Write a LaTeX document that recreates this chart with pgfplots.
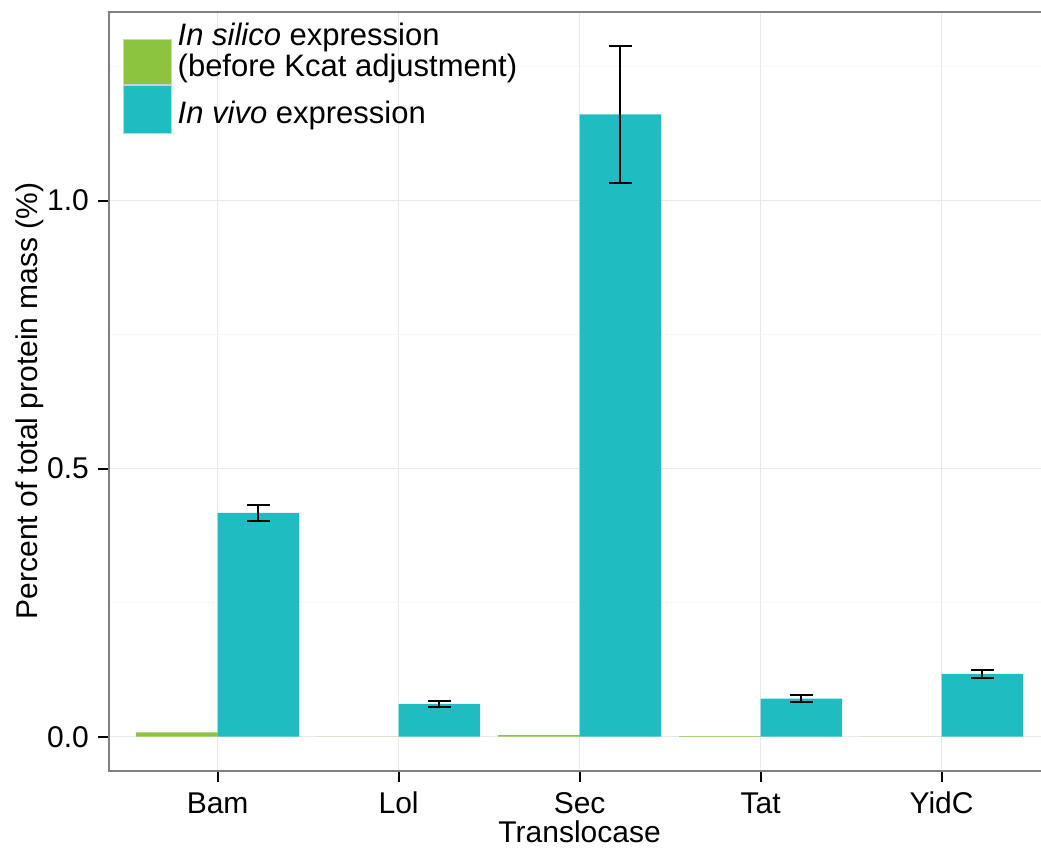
\documentclass[border=0pt]{standalone}
\usepackage{pgfplots}
\pgfplotsset{compat=1.18}
\usepackage{fontspec}
\setmainfont{Liberation Sans}
\definecolor{gsilico}{HTML}{8CC43F}
\definecolor{gvivo}{HTML}{1FBCC2}
\definecolor{grid90}{HTML}{E8E8E8}
\definecolor{grid98}{HTML}{F7F7F7}
\definecolor{keyborder}{HTML}{D0D0D0}
\begin{document}
\fontsize{30pt}{36pt}\selectfont
\begin{tikzpicture}
\useasboundingbox (0,0) rectangle (1041pt,848pt);
\begin{axis}[
  at={(109pt,77pt)}, anchor=south west,
  scale only axis, width=941.2pt, height=758.5pt,
  xmin=-0.6, xmax=4.6, ymin=-0.064, ymax=1.351,
  xtick={0,1,2,3,4}, xticklabels={Bam,Lol,Sec,Tat,YidC},
  ytick={0,0.5,1.0}, yticklabels={0.0,0.5,1.0},
  minor ytick={0.25,0.75,1.25},
  grid=both,
  major grid style={grid90, line width=1.2pt},
  minor grid style={grid98, line width=1.2pt},
  axis line style={gray, line width=2pt},
  tick align=outside, major tick length=11pt, minor tick length=0pt,
  tick style={black, line width=2pt},
  xtick pos=left, ytick pos=left,
  /pgf/number format/assume math mode=true,
  ticklabel style={font=\fontsize{30pt}{36pt}\selectfont, text=black},
  yticklabel style={anchor=east, xshift=1pt},
  xticklabel style={anchor=base, yshift=-32pt},
  xlabel={Translocase},
  ylabel={Percent of total protein mass (\%)},
  xlabel style={at={(axis description cs:0.5,0)}, anchor=base, yshift=-72pt, font=\fontsize{30pt}{36pt}\selectfont},
  ylabel style={at={(axis description cs:-0.0839,0.488)}, anchor=center, font=\fontsize{30pt}{36pt}\selectfont},
  ybar=0pt, bar width=81.4pt,
  legend style={at={(axis description cs:0,1)}, anchor=north west, xshift=14pt, yshift=-10pt,
    draw=none, fill=none, inner sep=0pt, row sep=0pt,
    nodes={inner sep=0pt}, cells={align=left},
    font=\fontsize{31pt}{31pt}\selectfont},
  legend cell align=left,
]
\addplot[fill=gsilico, draw=none,
  legend image code/.code={\draw[fill=gsilico, draw=keyborder, line width=1pt] (0pt,-32.5pt) rectangle (48pt,12.5pt); \path (54pt,0pt);}]
  coordinates {(0,0.008) (1,0.0003) (2,0.003) (3,0.0012) (4,0.0003)};
\addlegendentry{\textit{In silico} expression\\(before Kcat adjustment)}
\addplot[fill=gvivo, draw=none,
  error bars/.cd, y dir=both, y explicit,
  error bar style={line width=2pt, black},
  error mark options={rotate=90, mark size=11.5pt, line width=2pt, black},
  /pgfplots/legend image code/.code={\draw[fill=gvivo, draw=keyborder, line width=1pt] (0pt,-18.5pt) rectangle (48pt,29.5pt); \path (54pt,0pt);}]
  coordinates {
  (0,0.4177) +- (0,0.0149)
  (1,0.0610) +- (0,0.0047)
  (2,1.1610) +- (0,0.1275)
  (3,0.0708) +- (0,0.0062)
  (4,0.1173) +- (0,0.0072)
  };
\addlegendentry{\textit{In vivo} expression}
\end{axis}
\end{tikzpicture}
\end{document}
